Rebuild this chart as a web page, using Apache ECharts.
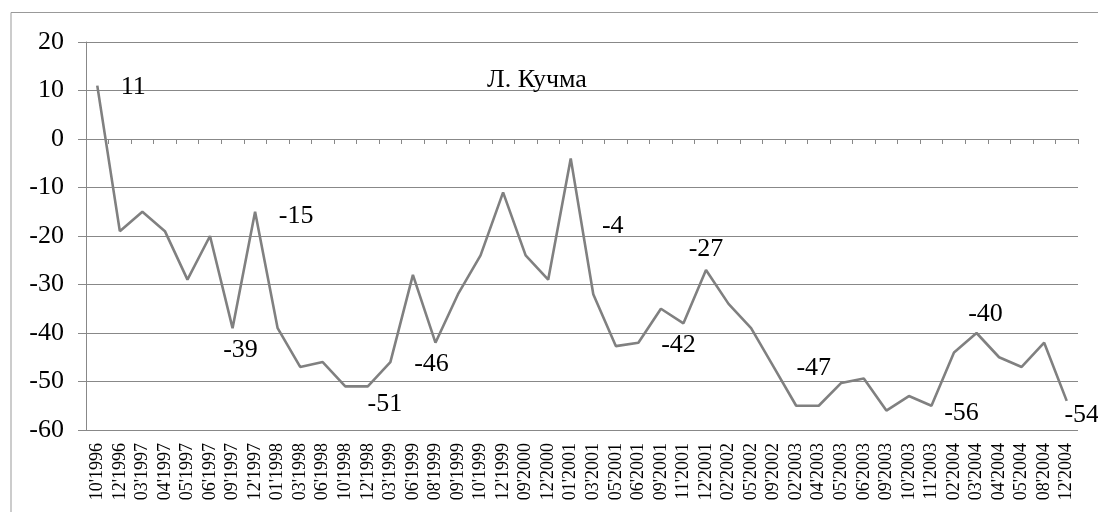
<!DOCTYPE html>
<html>
<head>
<meta charset="utf-8">
<script src="https://cdn.jsdelivr.net/npm/echarts@6/dist/echarts.min.js"></script>
<style>
  html, body { margin: 0; padding: 0; background: #fff; }
  #chart { width: 1098px; height: 512px; }
</style>
</head>
<body>
<div id="chart"></div>
<script>
const months = [
  "10'1996", "12'1996", "03'1997", "04'1997", "05'1997", "06'1997", "09'1997", "12'1997",
  "01'1998", "03'1998", "06'1998", "10'1998", "12'1998", "03'1999", "06'1999", "08'1999",
  "09'1999", "10'1999", "12'1999", "09'2000", "12'2000", "01'2001", "03'2001", "05'2001",
  "06'2001", "09'2001", "11'2001", "12'2001", "02'2002", "05'2002", "09'2002", "02'2003",
  "04'2003", "05'2003", "06'2003", "09'2003", "10'2003", "11'2003", "02'2004", "03'2004",
  "04'2004", "05'2004", "08'2004", "12'2004"
];

const rating = [
  11, -19, -15, -19, -29, -20, -39, -15,
  -39, -47, -46, -51, -51, -46, -28, -42,
  -32, -24, -11, -24, -29, -4, -32, -42.7,
  -42, -35, -38, -27, -34, -39, -47, -55,
  -55, -50.3, -49.4, -56, -53, -55, -44, -40,
  -45, -47, -42, -54
];

const yTicks = [-60, -50, -40, -30, -20, -10, 0, 10, 20];

// which point carries which text label
const labelPoints = [0, 7, 6, 12, 15, 21, 26, 27, 32, 37, 39, 43];
const labelTexts = ["11", "-15", "-39", "-51", "-46", "-4", "-42", "-27", "-47", "-56", "-40", "-54"];

// label placement (pixel shift from the point)
const labelShift = [
  [36, 2], [41, 4], [8, 22], [17, 18], [-4, 21], [42, 68],
  [-5, 22], [0, -21], [-5, -38], [30, 7], [9, -19], [15, 14]
];

const serif = "'Liberation Serif', 'Times New Roman', serif";
const gray = "#888888";

const seriesData = rating.map(function (v, i) {
  const k = labelPoints.indexOf(i);
  if (k < 0) return v;
  return {
    value: v,
    label: {
      show: true,
      position: "inside",
      formatter: labelTexts[k],
      offset: labelShift[k],
      color: "#000",
      fontFamily: serif,
      fontSize: 26
    }
  };
});

const myChart = echarts.init(document.getElementById("chart"));

const option = {
  animation: false,
  backgroundColor: "#fff",
  title: {
    text: "Л. Кучма",
    left: 482,
    top: 62,
    textStyle: {
      fontFamily: serif,
      fontSize: 26,
      fontWeight: "normal",
      color: "#000"
    }
  },
  graphic: [
    {
      type: "rect",
      shape: { x: 11, y: 12.5, width: 1200, height: 600 },
      style: { fill: "none", stroke: "#999", lineWidth: 1 },
      silent: true
    }
  ],
  grid: {
    left: 86,
    right: 20,
    top: 42,
    bottom: 82
  },
  xAxis: [
    {
      type: "category",
      data: months,
      boundaryGap: true,
      axisLine: { onZero: true, lineStyle: { color: gray, width: 1 } },
      axisTick: { show: true, inside: false, length: 5, interval: 0, lineStyle: { color: gray } },
      axisLabel: { show: false },
      splitLine: { show: false }
    },
    {
      type: "category",
      data: months,
      position: "bottom",
      boundaryGap: true,
      axisLine: { show: false, onZero: false },
      axisTick: { show: false },
      axisLabel: {
        show: true,
        interval: 0,
        rotate: 90,
        margin: 13,
        fontFamily: serif,
        fontSize: 18,
        color: "#000"
      },
      splitLine: { show: false }
    }
  ],
  yAxis: {
    type: "value",
    min: yTicks[0],
    max: yTicks[yTicks.length - 1],
    interval: 10,
    axisLine: { show: true, lineStyle: { color: gray, width: 1 } },
    axisTick: { show: true, inside: false, length: 8, lineStyle: { color: gray } },
    axisLabel: {
      margin: 22,
      fontFamily: serif,
      fontSize: 26,
      color: "#000"
    },
    splitLine: { show: true, lineStyle: { color: gray, width: 1 } }
  },
  series: [
    {
      type: "line",
      xAxisIndex: 0,
      data: seriesData,
      symbol: "circle",
      symbolSize: 0.01,
      showSymbol: true,
      lineStyle: { color: "#808080", width: 2.6 },
      itemStyle: { color: "#808080" },
      emphasis: { disabled: true },
      z: 3
    }
  ]
};

myChart.setOption(option);
</script>
</body>
</html>
